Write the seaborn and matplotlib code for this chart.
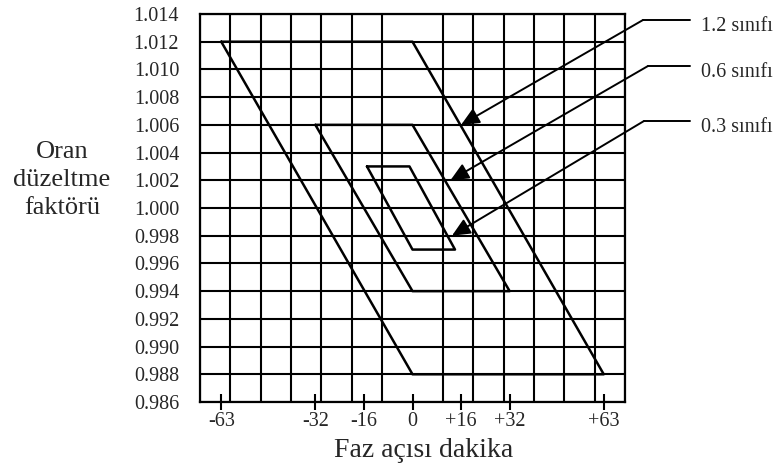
import numpy as np
import pandas as pd
import seaborn as sns
import matplotlib.pyplot as plt
from matplotlib.lines import Line2D

# veriler (referanstan okundu)
siniflar = ['1.2 sınıfı', '0.6 sınıfı', '0.3 sınıfı']
faz_12 = [-63, 0, 63, 0, -63]
oran_12 = [1.012, 1.012, 0.988, 0.988, 1.012]
faz_06 = [-32, 0, 32, 0, -32]
oran_06 = [1.006, 1.006, 0.994, 0.994, 1.006]
faz_03 = [-15, -1, 14, 0, -15]
oran_03 = [1.003, 1.003, 0.997, 0.997, 1.003]

# ok uçları (faz, oran)
ok_faz = [16, 12.5, 13]
ok_oran = [1.006, 1.002, 0.998]

x_ticks = [-63, -32, -16, 0, 16, 32, 63]
x_tick_labels = ['-63', '-32', '-16', '0', '+16', '+32', '+63']
y_ticks = np.round(np.arange(0.986, 1.0141, 0.002), 3)

sns.set_style('white')
plt.rcParams['font.family'] = ['Liberation Serif', 'DejaVu Serif']

W, H = 781, 465
fig = plt.figure(figsize=(W / 100, H / 100), dpi=100)
ax = fig.add_axes([200 / W, 1 - 402 / H, 425 / W, 388 / H])

for faz, oran in [(faz_12, oran_12), (faz_06, oran_06), (faz_03, oran_03)]:
    df = pd.DataFrame({'faz': faz, 'oran': oran})
    sns.lineplot(data=df, x='faz', y='oran', sort=False, estimator=None,
                 color='black', lw=1.8, ax=ax, zorder=3)

ax.set_xlim(-70, 70)
ax.set_ylim(0.986, 1.014)
ax.set_xticks(x_ticks)
ax.set_xticklabels(x_tick_labels)
ax.set_xticks(np.arange(-70, 71, 10), minor=True)
ax.set_yticks(y_ticks)
ax.set_yticklabels([f'{v:.3f}' for v in y_ticks])

ax.grid(which='minor', axis='x', color='black', lw=1.5)
ax.grid(which='major', axis='y', color='black', lw=1.5)
ax.grid(which='major', axis='x', visible=False)
ax.set_axisbelow(True)

ax.tick_params(axis='x', which='major', direction='inout', length=11, width=1.5,
               color='black', labelsize=14.5, pad=1.5, bottom=True)
ax.tick_params(axis='x', which='minor', length=0)
ax.tick_params(axis='y', length=0, labelsize=14.5, pad=15)
for s in ax.spines.values():
    s.set_color('black')
    s.set_linewidth(1.6)

ax.set_xlabel('Faz açısı dakika', fontsize=20)
ax.xaxis.set_label_coords((424 - 200) / 425, (402 - 457) / 388)
ax.xaxis.label.set_va('baseline')
ax.set_ylabel('')
fig.text(62 / W, 1 - 180 / H, 'Oran\ndüzeltme\nfaktörü', ha='center', va='center',
         fontsize=19, linespacing=1.35)

# sınıf etiketleri ve oklar
cizgi_sol = [643, 648, 644]
cizgi_y = [20, 66, 121]
for i, ad in enumerate(siniflar):
    y = H - cizgi_y[i]
    ax.annotate('', xy=(ok_faz[i], ok_oran[i]), xycoords='data',
                xytext=(cizgi_sol[i], y), textcoords='figure pixels',
                annotation_clip=False,
                arrowprops=dict(arrowstyle='-|>,head_length=1.1,head_width=0.5',
                                color='black', lw=1.4, shrinkA=0, shrinkB=0))
    fig.add_artist(Line2D([cizgi_sol[i] / W, 690 / W], [y / H, y / H],
                          color='black', lw=1.4))
    fig.text(701 / W, (y - 11) / H, ad, ha='left', va='baseline', fontsize=14.5)

plt.savefig('out.png', dpi=100)
